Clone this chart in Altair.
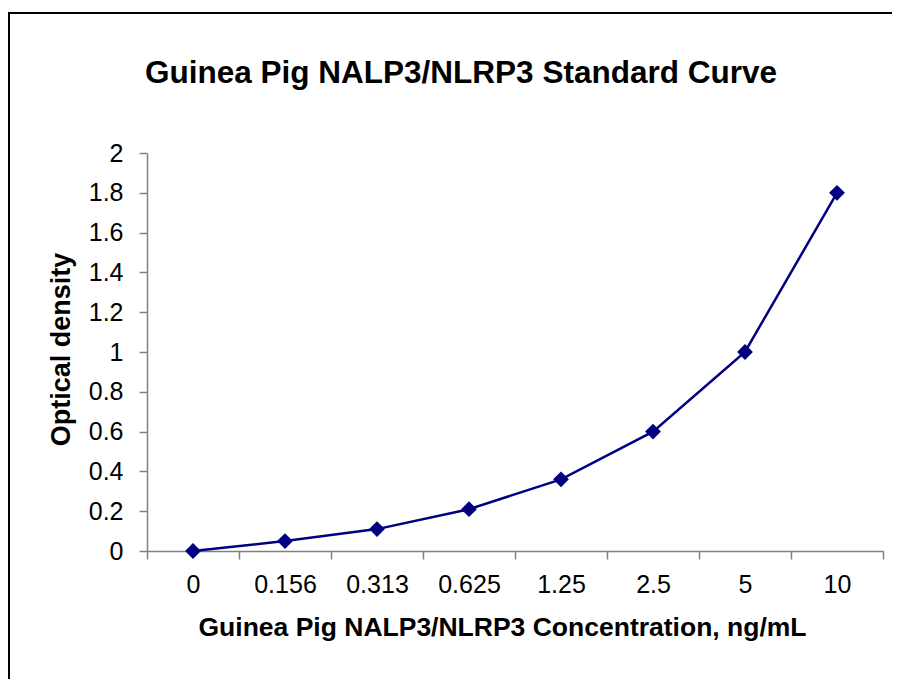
import altair as alt
import pandas as pd

# Data
concentrations = ["0", "0.156", "0.313", "0.625", "1.25", "2.5", "5", "10"]
optical_density = [0.0, 0.05, 0.11, 0.21, 0.36, 0.60, 1.00, 1.80]

title_text = ["Guinea Pig NALP3/NLRP3 Standard Curve"]
x_title = "Guinea Pig NALP3/NLRP3 Concentration, ng/mL"
y_title = "Optical density"

df = pd.DataFrame({"conc": concentrations, "od": optical_density})

FONT = "Liberation Sans"
NAVY = "#000080"
AXIS_GREY = "#808080"

x_enc = alt.X(
    "conc:N",
    sort=concentrations,
    scale=alt.Scale(type="band", paddingInner=0, paddingOuter=0),
    axis=alt.Axis(
        title=x_title,
        labelAngle=0,
        tickBand="extent",
        tickSize=8,
        labelPadding=13,
        labelFontSize=25,
        labelFont=FONT,
        labelColor="black",
        titleFontSize=26.5,
        titleFont=FONT,
        titleFontWeight="bold",
        titleColor="black",
        titlePadding=17,
        titleX=355,
        domainColor=AXIS_GREY,
        tickColor=AXIS_GREY,
        domainWidth=1.5,
        tickWidth=1.5,
        grid=False,
    ),
)

y_enc = alt.Y(
    "od:Q",
    scale=alt.Scale(domain=[0, 2], nice=False, zero=True),
    axis=alt.Axis(
        title=y_title,
        tickCount=10,
        format="~g",
        tickSize=8,
        labelPadding=16,
        labelFontSize=25,
        labelFont=FONT,
        labelColor="black",
        titleFontSize=27,
        titleFont=FONT,
        titleFontWeight="bold",
        titleColor="black",
        titlePadding=13,
        titleY=196,
        domainColor=AXIS_GREY,
        tickColor=AXIS_GREY,
        domainWidth=1.5,
        tickWidth=1.5,
        grid=False,
    ),
)

base = alt.Chart(df)

line = base.mark_line(color=NAVY, strokeWidth=2.5).encode(x=x_enc, y=y_enc)
points = base.mark_point(
    shape="diamond", filled=True, size=250, color=NAVY, opacity=1
).encode(x=x_enc, y=y_enc)

border = alt.Chart(pd.DataFrame({"a": [0]})).mark_rect(
    fillOpacity=0, stroke="black", strokeWidth=2
).encode(
    x=alt.value(-138),
    x2=alt.value(800),
    y=alt.value(-140),
    y2=alt.value(600),
)

title = alt.Chart(pd.DataFrame({"t": title_text})).mark_text(
    font=FONT,
    fontSize=31.5,
    fontWeight="bold",
    color="black",
    align="center",
    baseline="alphabetic",
).encode(
    text="t:N",
    x=alt.value(314),
    y=alt.value(-70),
)

chart = (
    alt.layer(border, title, line, points)
    .properties(
        width=736,
        height=398,
        background="white",
        autosize=alt.AutoSizeParams(type="none"),
        padding={"left": 139, "top": 145, "right": 9, "bottom": 128},
    )
    .configure_view(stroke="transparent", strokeWidth=0)
)

chart.save("out.html", embed_options={"renderer": "svg", "actions": False})
